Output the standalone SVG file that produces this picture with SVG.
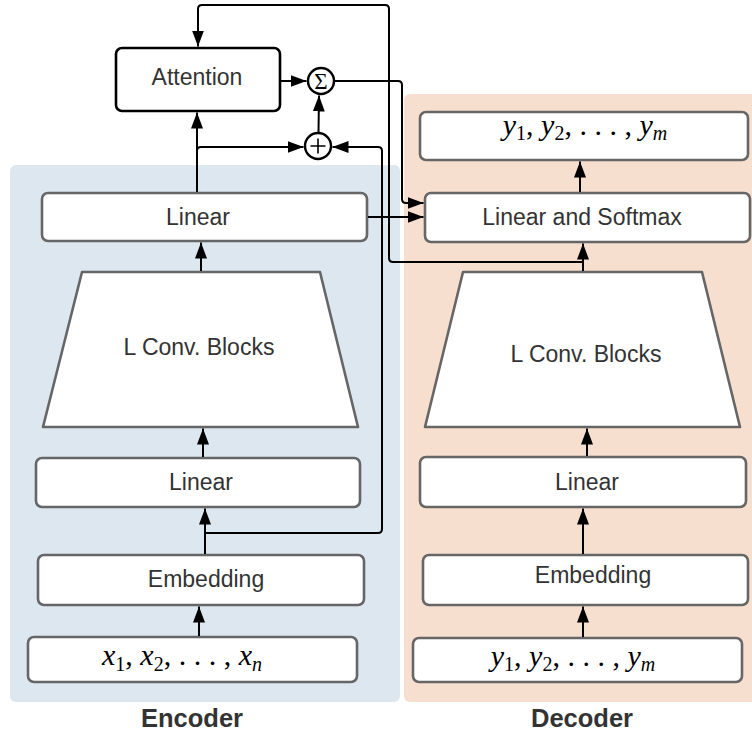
<svg xmlns="http://www.w3.org/2000/svg" width="752" height="736" viewBox="0 0 752 736">
<defs>
<style>
.panel{stroke:none}
.box{fill:#fff;stroke:#666;stroke-width:2.6;stroke-linejoin:round}
.att{fill:#fff;stroke:#000;stroke-width:2.6}
.lbl{font-family:"Liberation Sans",Arial,sans-serif;font-size:23px;fill:#333;text-anchor:middle}
.title{font-family:"Liberation Sans",Arial,sans-serif;font-size:25.5px;font-weight:bold;fill:#333;text-anchor:middle}
.math{font-family:"Liberation Serif","Times New Roman",serif;font-size:30px;fill:#000;text-anchor:middle}
.math .v{font-style:italic}
.math .s{font-size:20px}
.con{fill:none;stroke:#000;stroke-width:2}
.circ{fill:#fff;stroke:#000;stroke-width:2.4}
</style>
<marker id="ah" viewBox="0 0 16 12" markerWidth="16" markerHeight="12" refX="16" refY="6" orient="auto" markerUnits="userSpaceOnUse">
<path d="M0,0 L16,6 L0,12 z" fill="#000"/>
</marker>
</defs>
<rect x="0" y="0" width="752" height="736" fill="#fff"/>
<g id="encoder-panel">
<rect class="panel" x="10" y="165" width="390" height="537" rx="6" fill="#dce7f0"/>
<text class="title" x="192" y="727">Encoder</text>
</g>
<g id="decoder-panel">
<rect class="panel" x="404" y="94" width="360" height="608" rx="6" fill="#f7dfd0"/>
<text class="title" x="582" y="727">Decoder</text>
</g>
<g id="attention">
<rect class="att" x="116" y="48" width="164" height="63" rx="6"/>
<text class="lbl" x="197" y="85">Attention</text>
</g>
<g id="sigma">
<circle class="circ" cx="321" cy="81" r="13"/>
<text x="321" y="89" font-family="Liberation Serif,serif" font-size="23" text-anchor="middle" fill="#000">Σ</text>
</g>
<g id="plus">
<circle class="circ" cx="318" cy="146" r="13"/>
<path d="M310.5,146 H325.5 M318,138.5 V153.5" stroke="#000" stroke-width="1.6" fill="none"/>
</g>
<g id="enc-linear-top">
<rect class="box" x="42" y="193" width="325" height="48" rx="6"/>
<text class="lbl" x="198" y="225">Linear</text>
</g>
<g id="enc-conv">
<path class="box" d="M82,272 L320,272 L358,427 L43,427 Z"/>
<text class="lbl" x="199" y="355">L Conv. Blocks</text>
</g>
<g id="enc-linear">
<rect class="box" x="36" y="458" width="324" height="49" rx="6"/>
<text class="lbl" x="201" y="490">Linear</text>
</g>
<g id="enc-embedding">
<rect class="box" x="38" y="555" width="326" height="50" rx="6"/>
<text class="lbl" x="206" y="587">Embedding</text>
</g>
<g id="enc-input">
<rect class="box" x="28" y="637" width="329" height="45" rx="6"/>
<text class="math" x="182" y="665"><tspan class="v">x</tspan><tspan class="s" dy="6">1</tspan><tspan dy="-6">, </tspan><tspan class="v">x</tspan><tspan class="s" dy="6">2</tspan><tspan dy="-6">, . . . , </tspan><tspan class="v">x</tspan><tspan class="s v" dy="6">n</tspan></text>
</g>
<g id="dec-output">
<rect class="box" x="420" y="112" width="328" height="48" rx="6"/>
<text class="math" x="585" y="135"><tspan class="v">y</tspan><tspan class="s" dy="5">1</tspan><tspan dy="-5">, </tspan><tspan class="v">y</tspan><tspan class="s" dy="5">2</tspan><tspan dy="-5">, . . . , </tspan><tspan class="v">y</tspan><tspan class="s v" dy="5">m</tspan></text>
</g>
<g id="dec-linear-softmax">
<rect class="box" x="425" y="193" width="325" height="49" rx="6"/>
<text class="lbl" x="582" y="225">Linear and Softmax</text>
</g>
<g id="dec-conv">
<path class="box" d="M463,272 L702,272 L740,427 L425,427 Z"/>
<text class="lbl" x="586" y="362">L Conv. Blocks</text>
</g>
<g id="dec-linear">
<rect class="box" x="420" y="457" width="326" height="50" rx="6"/>
<text class="lbl" x="587" y="490">Linear</text>
</g>
<g id="dec-embedding">
<rect class="box" x="423" y="555" width="325" height="50" rx="6"/>
<text class="lbl" x="593" y="583">Embedding</text>
</g>
<g id="dec-input">
<rect class="box" x="413" y="638" width="329" height="44" rx="6"/>
<text class="math" x="573" y="666"><tspan class="v">y</tspan><tspan class="s" dy="5">1</tspan><tspan dy="-5">, </tspan><tspan class="v">y</tspan><tspan class="s" dy="5">2</tspan><tspan dy="-5">, . . . , </tspan><tspan class="v">y</tspan><tspan class="s v" dy="5">m</tspan></text>
</g>
<g id="connectors">
<path class="con" d="M199,636 L199,606.5" marker-end="url(#ah)"/>
<path class="con" d="M205,554 L205,508.5" marker-end="url(#ah)"/>
<path class="con" d="M205,533 L378,533 Q382,533 382,529 L382,151 Q382,147 378,147 L332.5,147"  marker-end="url(#ah)"/>
<path class="con" d="M203,457 L203,428.5" marker-end="url(#ah)"/>
<path class="con" d="M201,271 L201,242.5" marker-end="url(#ah)"/>
<path class="con" d="M197,192 L197,112.5" marker-end="url(#ah)"/>
<path class="con" d="M197,151 Q197,147 201,147 L303.5,147" marker-end="url(#ah)"/>
<path class="con" d="M318.5,132 L319,95.5" marker-end="url(#ah)"/>
<path class="con" d="M281,81 L306.5,81" marker-end="url(#ah)"/>
<path class="con" d="M334,81 L398,81 Q402,81 402,85 L402,199 Q402,203 406,203 L423.5,203" marker-end="url(#ah)"/>
<path class="con" d="M368,217 L423.5,217" marker-end="url(#ah)"/>
<path class="con" d="M583,262 L393,262 Q389,262 389,258 L389,9 Q389,5 385,5 L202,5 Q198,5 198,9 L198,46.5" marker-end="url(#ah)"/>
<path class="con" d="M583,637 L583,606.5" marker-end="url(#ah)"/>
<path class="con" d="M583,554 L583,508.5" marker-end="url(#ah)"/>
<path class="con" d="M587,456 L587,428.5" marker-end="url(#ah)"/>
<path class="con" d="M583,271 L583,243.5" marker-end="url(#ah)"/>
<path class="con" d="M580,192 L580,161.5" marker-end="url(#ah)"/>
</g>
</svg>
